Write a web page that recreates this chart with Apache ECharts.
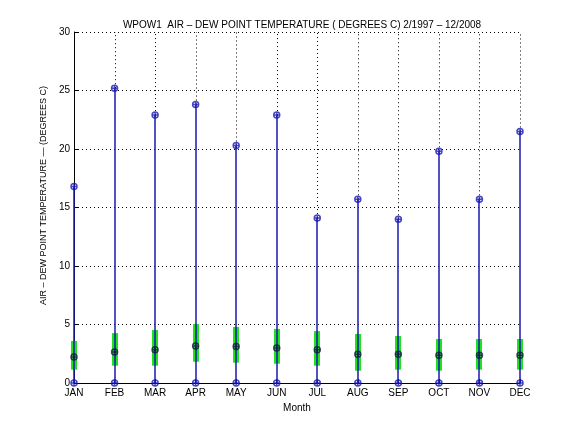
<!DOCTYPE html>
<html>
<head>
<meta charset="utf-8">
<script src="https://cdn.jsdelivr.net/npm/echarts@6/dist/echarts.min.js"></script>
<style>
  html, body { margin: 0; padding: 0; background: #fff; }
  #chart { width: 576px; height: 432px; }
</style>
</head>
<body>
<div id="chart"></div>
<script>
// monthly air - dew point spread, 2/1997 - 12/2008
const months = ['JAN', 'FEB', 'MAR', 'APR', 'MAY', 'JUN', 'JUL', 'AUG', 'SEP', 'OCT', 'NOV', 'DEC']
const maxVals = [16.8, 25.2, 22.9, 23.8, 20.3, 22.9, 14.1, 15.7, 14.0, 19.8, 15.7, 21.5]
const minVals = [0, 0, 0, 0, 0, 0, 0, 0, 0, 0, 0, 0]
const q1Vals = [1.14, 1.48, 1.48, 1.82, 1.74, 1.65, 1.48, 1.05, 1.14, 1.05, 1.14, 1.14]
const q3Vals = [3.59, 4.27, 4.53, 5.04, 4.79, 4.62, 4.44, 4.19, 4.02, 3.76, 3.76, 3.76]
const medVals = [2.22, 2.65, 2.85, 3.16, 3.13, 2.99, 2.85, 2.45, 2.45, 2.37, 2.37, 2.37]
const yTicks = [0, 5, 10, 15, 20, 25, 30]

const font = 'Liberation Sans'
const blue = '#1818b0'
const green = '#1fe21f'
const circlePlus = 'path://M-1,0A1,1,0,1,0,1,0A1,1,0,1,0,-1,0ZM-1,0L1,0M0,-1L0,1'

const chart = echarts.init(document.getElementById('chart'))

const rangeData = months.map((m, i) => [i, minVals[i], maxVals[i], q1Vals[i], q3Vals[i]])

function renderRange(params, api) {
  const x = api.value(0)
  const pMin = api.coord([x, api.value(1)])
  const pMax = api.coord([x, api.value(2)])
  const pQ1 = api.coord([x, api.value(3)])
  const pQ3 = api.coord([x, api.value(4)])
  const pTop = api.coord([x, yTicks[yTicks.length - 1]])
  const cx = Math.round(pMin[0])
  const w = 6
  return {
    type: 'group',
    children: [
      {
        // vertical grid line, only visible above the whisker
        type: 'line',
        shape: { x1: cx + 0.5, y1: pMax[1], x2: cx + 0.5, y2: pTop[1] },
        style: { stroke: '#000', lineWidth: 1, lineDash: [1, 3] }
      },
      {
        type: 'rect',
        shape: { x: cx - w / 2, y: pQ3[1], width: w, height: pQ1[1] - pQ3[1] },
        style: { fill: green }
      },
      {
        type: 'line',
        shape: { x1: cx, y1: pMin[1], x2: cx, y2: pMax[1] },
        style: { stroke: blue, lineWidth: 1.5 }
      }
    ]
  }
}

function markerSeries(vals, color) {
  return {
    type: 'scatter',
    data: vals.map((v, i) => [i, v]),
    symbol: circlePlus,
    symbolSize: 6,
    itemStyle: { color: 'transparent', borderColor: color, borderWidth: 1.5 },
    z: 5
  }
}

const option = {
  animation: false,
  title: {
    text: 'WPOW1  AIR \u2013 DEW POINT TEMPERATURE ( DEGREES C) 2/1997 \u2013 12/2008',
    left: 297,
    textAlign: 'center',
    top: 15,
    textStyle: { fontFamily: font, fontSize: 10, fontWeight: 'normal', color: '#000' }
  },
  grid: { left: 74, right: 56, top: 32, bottom: 49 },
  xAxis: {
    type: 'category',
    data: months,
    boundaryGap: false,
    name: 'Month',
    nameLocation: 'middle',
    nameGap: 18,
    nameTextStyle: { fontFamily: font, fontSize: 10, color: '#000' },
    axisLine: { lineStyle: { color: '#000', width: 1 } },
    axisTick: { inside: true, length: 4, lineStyle: { color: '#000' } },
    axisLabel: { fontFamily: font, fontSize: 10, color: '#000', margin: 5, interval: 0 },
    splitLine: { show: false }
  },
  yAxis: {
    type: 'value',
    min: yTicks[0],
    max: yTicks[yTicks.length - 1],
    interval: 5,
    name: 'AIR \u2013 DEW POINT TEMPERATURE \u2014 (DEGREES C)',
    nameLocation: 'middle',
    nameGap: 19,
    nameTextStyle: { fontFamily: font, fontSize: 9, color: '#000', padding: [0, 0, 0, 24] },
    axisLine: { show: true, lineStyle: { color: '#000', width: 1 } },
    axisTick: { show: true, inside: true, length: 4, lineStyle: { color: '#000' } },
    axisLabel: { fontFamily: font, fontSize: 10, color: '#000', margin: 4 },
    splitLine: { show: true, lineStyle: { color: '#000', type: [1, 3], width: 1 } }
  },
  series: [
    {
      type: 'custom',
      data: rangeData,
      renderItem: renderRange,
      encode: { x: 0, y: [1, 2, 3, 4] },
      z: 3
    },
    markerSeries(maxVals, blue),
    markerSeries(minVals, blue),
    markerSeries(medVals, '#141440')
  ]
}

chart.setOption(option)
</script>
</body>
</html>
